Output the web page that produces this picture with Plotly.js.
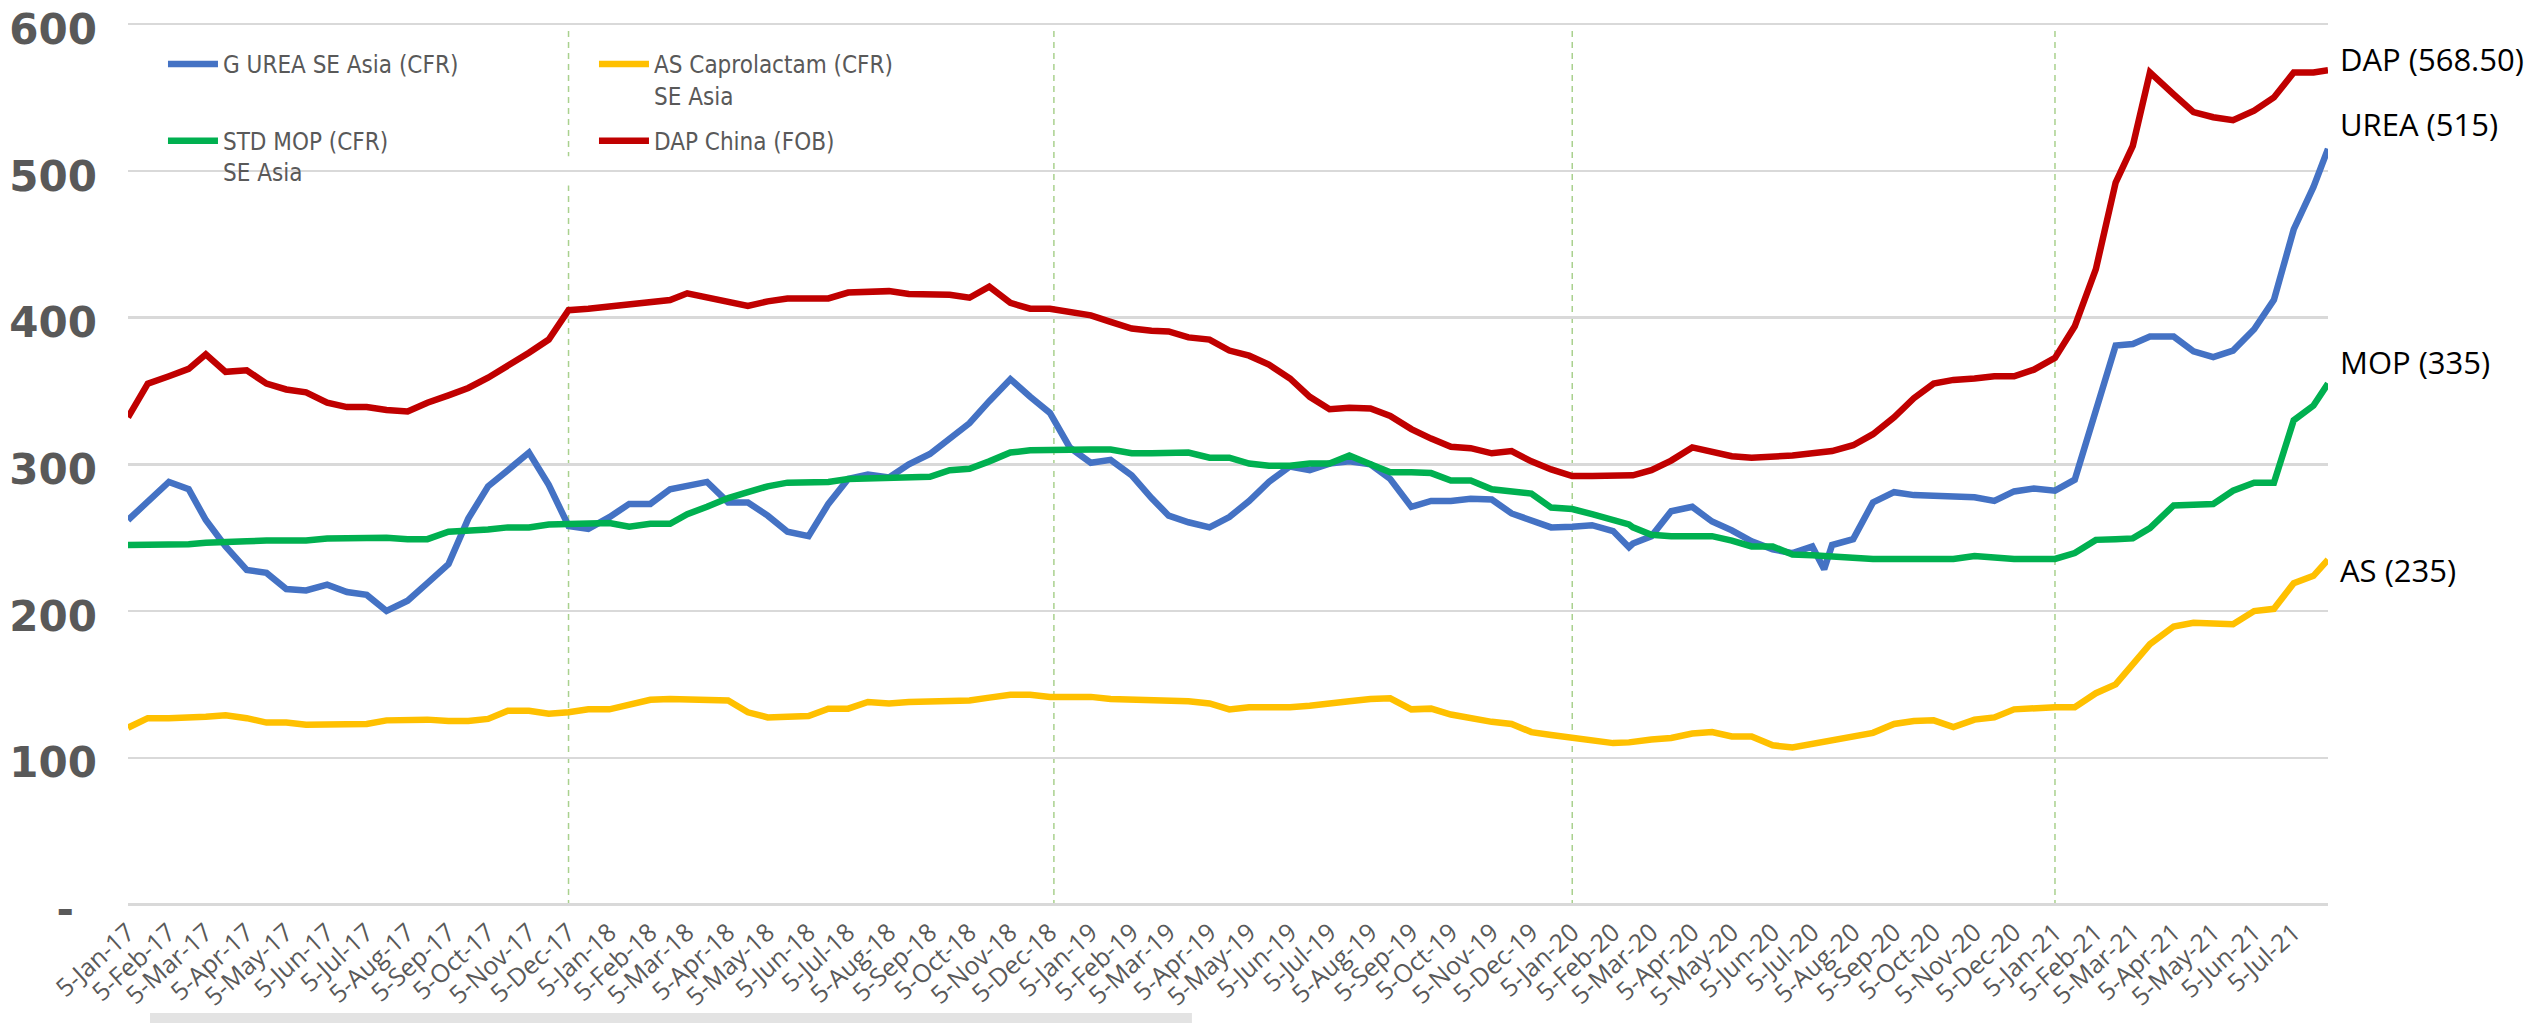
<!DOCTYPE html>
<html><head><meta charset="utf-8">
<script src="https://cdn.plot.ly/plotly-3.0.1.min.js"></script>
<style>html,body{margin:0;padding:0;background:#fff;}#chart{width:2535px;height:1023px;}</style>
</head><body><div id="chart"></div>
<script>
// Sample dates (roughly semi-monthly, plus a few turning points)
const dates = [
 '2017-01-05','2017-01-20','2017-02-05','2017-02-20','2017-03-05','2017-03-20','2017-04-05','2017-04-20','2017-05-05','2017-05-20','2017-06-05','2017-06-20','2017-07-05','2017-07-20','2017-08-05','2017-08-20','2017-09-05','2017-09-20','2017-10-05','2017-10-20','2017-11-05','2017-11-20','2017-12-05','2017-12-20',
 '2018-01-05','2018-01-20','2018-02-05','2018-02-20','2018-03-05','2018-03-20','2018-04-05','2018-04-20','2018-05-05','2018-05-20','2018-06-05','2018-06-20','2018-07-05','2018-07-20','2018-08-05','2018-08-20','2018-09-05','2018-09-20','2018-10-05','2018-10-20','2018-11-05','2018-11-20','2018-12-05','2018-12-20',
 '2019-01-05','2019-01-20','2019-02-05','2019-02-20','2019-03-05','2019-03-20','2019-04-05','2019-04-20','2019-05-05','2019-05-20','2019-06-05','2019-06-20','2019-07-05','2019-07-20','2019-08-05','2019-08-20','2019-09-05','2019-09-20','2019-10-05','2019-10-20','2019-11-05','2019-11-20','2019-12-05','2019-12-20',
 '2020-01-05','2020-01-20','2020-02-05','2020-02-17','2020-02-20','2020-03-05','2020-03-20','2020-04-05','2020-04-20','2020-05-05','2020-05-20','2020-06-05','2020-06-20','2020-07-05','2020-07-14','2020-07-20','2020-08-05','2020-08-20','2020-09-05','2020-09-20','2020-10-05','2020-10-20','2020-11-05','2020-11-20','2020-12-05','2020-12-20',
 '2021-01-05','2021-01-20','2021-02-05','2021-02-20','2021-03-05','2021-03-18','2021-04-05','2021-04-20','2021-05-05','2021-05-20','2021-06-05','2021-06-20','2021-07-05','2021-07-20','2021-07-31'
];

const ureaSEAsia = [
 262,275,288,283,262,244,228,226,215,214,218,213,211,200,207,219,232,263,285,296,308,286,258,256,
 264,273,273,283,285,288,274,274,265,254,251,273,290,293,291,300,307,318,328,343,358,346,335,311.5,
 301,303,292.5,277,265,260.5,257,264,275,288,298.5,296,300.5,302,300,290,271,275,275,276.5,276,266.5,262,257,
 257.5,258.5,254.5,243.5,246,251,268,271,261,255,247.5,242,239.5,244,228.5,245,249,274,281,279,278.5,277.5,277.5,275,281.5,283.5,
 282,289.5,336,381,382,387,387,377,373,377.5,392,412,460,489,515
];

const asCaprolactam = [
 120.5,127,127,127,128,129,127,124,124,122.5,122.5,122.5,123,125.5,126,126,125,125,126.5,132,132,130,131,133,
 133,136,139.5,140,140,140,139,131,127.5,128,128.5,133.5,133.5,138,137,138,138.5,138.5,139,141,143,143,141.5,141.5,
 141.5,140,139.5,139.5,139,138.5,137,133,134.5,134,134.5,135.5,137.5,138.5,140,140.5,133,133.5,129.5,127,124.5,123,117.5,115.5,
 113.5,111.5,110,110.5,111,112.5,113.5,116.5,117.5,114.5,114.5,108.5,107,109.5,111,111,114.5,117,123,125,125.5,121,126,127.5,133,134,
 134.5,134.5,144,150,164,177.5,189.5,192,191.5,191,200,201.5,219,224,235
];

const stdMOP = [
 245,245,245,245.5,246.5,247.5,247.5,248,248,248,249.5,250,250,250,249,249,254,254.5,255.5,257,257,259,259.5,260,
 260,257.5,259.5,259.5,266,271,277,281,285,287.5,288,288,290,290.5,290.5,291.5,291.5,296,297,302,308,309.5,310,310,
 310,310,307.5,307.5,307.5,308,304.5,304.5,300.5,299,299,300.5,300.5,306,300,294.5,294.5,294,289,289,283,282,280,270.5,
 269.5,266,262,259,257,252,251,251,251,248,244,244,238.5,238,237.5,237.5,236,235.5,235.5,235.5,235.5,235.5,237.5,236,235.5,235.5,
 235.5,239.5,248.5,249,249.5,256.5,272,272.5,273,282,287.5,287.5,330,340,355
];

const dapChina = [
 332,355,360,365,375,363,364,355,351,349,342,339,339,337,336,342,347,352,359,367,376,385,405,406,
 407.5,409,409.5,412,416.5,414,410.5,408,411,413,413,413,417,418,418,416,416,415.5,413.5,421,410,406,406,404,
 401.5,397,392.5,391,390.5,386.5,385,377.5,374,368,358.5,346,337.5,338.5,338,333,324,317.5,312,311,307.5,309,302,296.5,
 292,292,292,292,292.5,296,302.5,311.5,308,305.5,304.5,305,306,307.5,308.5,309,313,320.5,332,345,355,357.5,358.5,360,360,364.5,
 372.5,394,433,492,517,567,552,540,536.5,534.5,541,550,567,567,568.5
];

const seriesNames = ['G UREA SE Asia (CFR)','AS Caprolactam (CFR)<br>SE Asia','STD MOP (CFR)<br>SE Asia','DAP China (FOB)'];
const endLabels = ['DAP (568.50)','UREA (515)','MOP (335)','AS (235)'];

const tickLabels = [
 '5-Jan-17','5-Feb-17','5-Mar-17','5-Apr-17','5-May-17','5-Jun-17','5-Jul-17','5-Aug-17','5-Sep-17','5-Oct-17','5-Nov-17','5-Dec-17',
 '5-Jan-18','5-Feb-18','5-Mar-18','5-Apr-18','5-May-18','5-Jun-18','5-Jul-18','5-Aug-18','5-Sep-18','5-Oct-18','5-Nov-18','5-Dec-18',
 '5-Jan-19','5-Feb-19','5-Mar-19','5-Apr-19','5-May-19','5-Jun-19','5-Jul-19','5-Aug-19','5-Sep-19','5-Oct-19','5-Nov-19','5-Dec-19',
 '5-Jan-20','5-Feb-20','5-Mar-20','5-Apr-20','5-May-20','5-Jun-20','5-Jul-20','5-Aug-20','5-Sep-20','5-Oct-20','5-Nov-20','5-Dec-20',
 '5-Jan-21','5-Feb-21','5-Mar-21','5-Apr-21','5-May-21','5-Jun-21','5-Jul-21'
];
const yTickValues = [0,100,200,300,400,500,600];
const yTickLabels = ['-\u00a0\u2009','100','200','300','400','500','600'];
const markerDates = ['2017-12-05','2018-12-08','2020-01-05','2021-01-05'];

const monthNum = {Jan:'01',Feb:'02',Mar:'03',Apr:'04',May:'05',Jun:'06',Jul:'07',Aug:'08',Sep:'09',Oct:'10',Nov:'11',Dec:'12'};
const tickVals = tickLabels.map(t => { const p = t.split('-'); return '20' + p[2] + '-' + monthNum[p[1]] + '-0' + p[0]; });

const colors = ['#4472C4','#FFC000','#00B050','#C00000'];
const seriesValues = [ureaSEAsia, asCaprolactam, stdMOP, dapChina];
const legendOf = ['legend','legend','legend2','legend2'];

const traces = seriesValues.map((vals, i) => ({
  type: 'scatter', mode: 'lines', x: dates, y: vals, name: seriesNames[i],
  line: {color: colors[i], width: 6.5, shape: 'linear'},
  legend: legendOf[i], hoverinfo: 'skip'
}));

const legendFont = {family: 'Liberation Sans Narrow, DejaVu Sans Condensed, sans-serif', size: 24, color: '#595959'};
const legendBase = {
  orientation: 'h', xanchor: 'left', yanchor: 'top', xref: 'paper', yref: 'paper',
  entrywidth: 366, entrywidthmode: 'pixels', itemwidth: 50, valign: 'top',
  bgcolor: 'rgba(0,0,0,0)', borderwidth: 0, font: legendFont, traceorder: 'normal',
  itemclick: false, itemdoubleclick: false
};

const shapes = markerDates.map(d => ({
  type: 'line', xref: 'x', yref: 'paper', x0: d, x1: d, y0: 0, y1: 0.992,
  line: {color: '#a9d18e', width: 1.5, dash: '6px,5px'}, layer: 'between'
}));
// white patch behind legend hiding part of the 500 gridline
shapes.push({type: 'rect', xref: 'paper', yref: 'y', x0: 0, x1: 0.3818, y0: 490, y1: 510,
  fillcolor: '#ffffff', line: {width: 0}, layer: 'between'});
// light grey bar along the bottom edge
shapes.push({type: 'rect', xref: 'paper', yref: 'paper', x0: 0.01, x1: 0.4836, y0: -0.1324, y1: -0.121,
  fillcolor: '#e3e3e3', line: {width: 0}, layer: 'above'});

const labelY = [576, 532, 370, 228];
const annotations = endLabels.map((t, i) => ({
  text: t, xref: 'paper', yref: 'y', x: 1.0045, y: labelY[i], xanchor: 'left', yanchor: 'middle',
  showarrow: false, font: {family: 'Open Sans, sans-serif', size: 31, color: '#000000'}
}));

const layout = {
  width: 2535, height: 1023,
  margin: {l: 128, r: 207, t: 22, b: 117, pad: 0},
  paper_bgcolor: '#ffffff', plot_bgcolor: '#ffffff',
  showlegend: true,
  xaxis: {
    type: 'date', range: ['2017-01-05', '2021-07-31'],
    tickmode: 'array', tickvals: tickVals, ticktext: tickLabels, tickangle: -42,
    tickfont: {family: 'Open Sans, sans-serif', size: 25, color: '#595959'},
    showgrid: false, zeroline: false, showline: false, ticks: '', ticklabelstandoff: 6
  },
  yaxis: {
    range: [-1, 601.4], tickmode: 'array', tickvals: yTickValues, ticktext: yTickLabels,
    tickfont: {family: 'DejaVu Sans, sans-serif', size: 42, color: '#595959', weight: 'bold'},
    showgrid: true, gridcolor: '#d9d9d9', gridwidth: 2.5, zeroline: false, showline: false,
    ticks: '', ticklabelstandoff: 30, ticklabeloverflow: 'allow', ticklabelshift: 5
  },
  legend: Object.assign({}, legendBase, {x: 0.0159, y: 0.9775}),
  legend2: Object.assign({}, legendBase, {x: 0.0159, y: 0.8908}),
  shapes: shapes,
  annotations: annotations,
  hovermode: false
};

Plotly.newPlot('chart', traces, layout, {staticPlot: true, displayModeBar: false});
</script></body></html>
